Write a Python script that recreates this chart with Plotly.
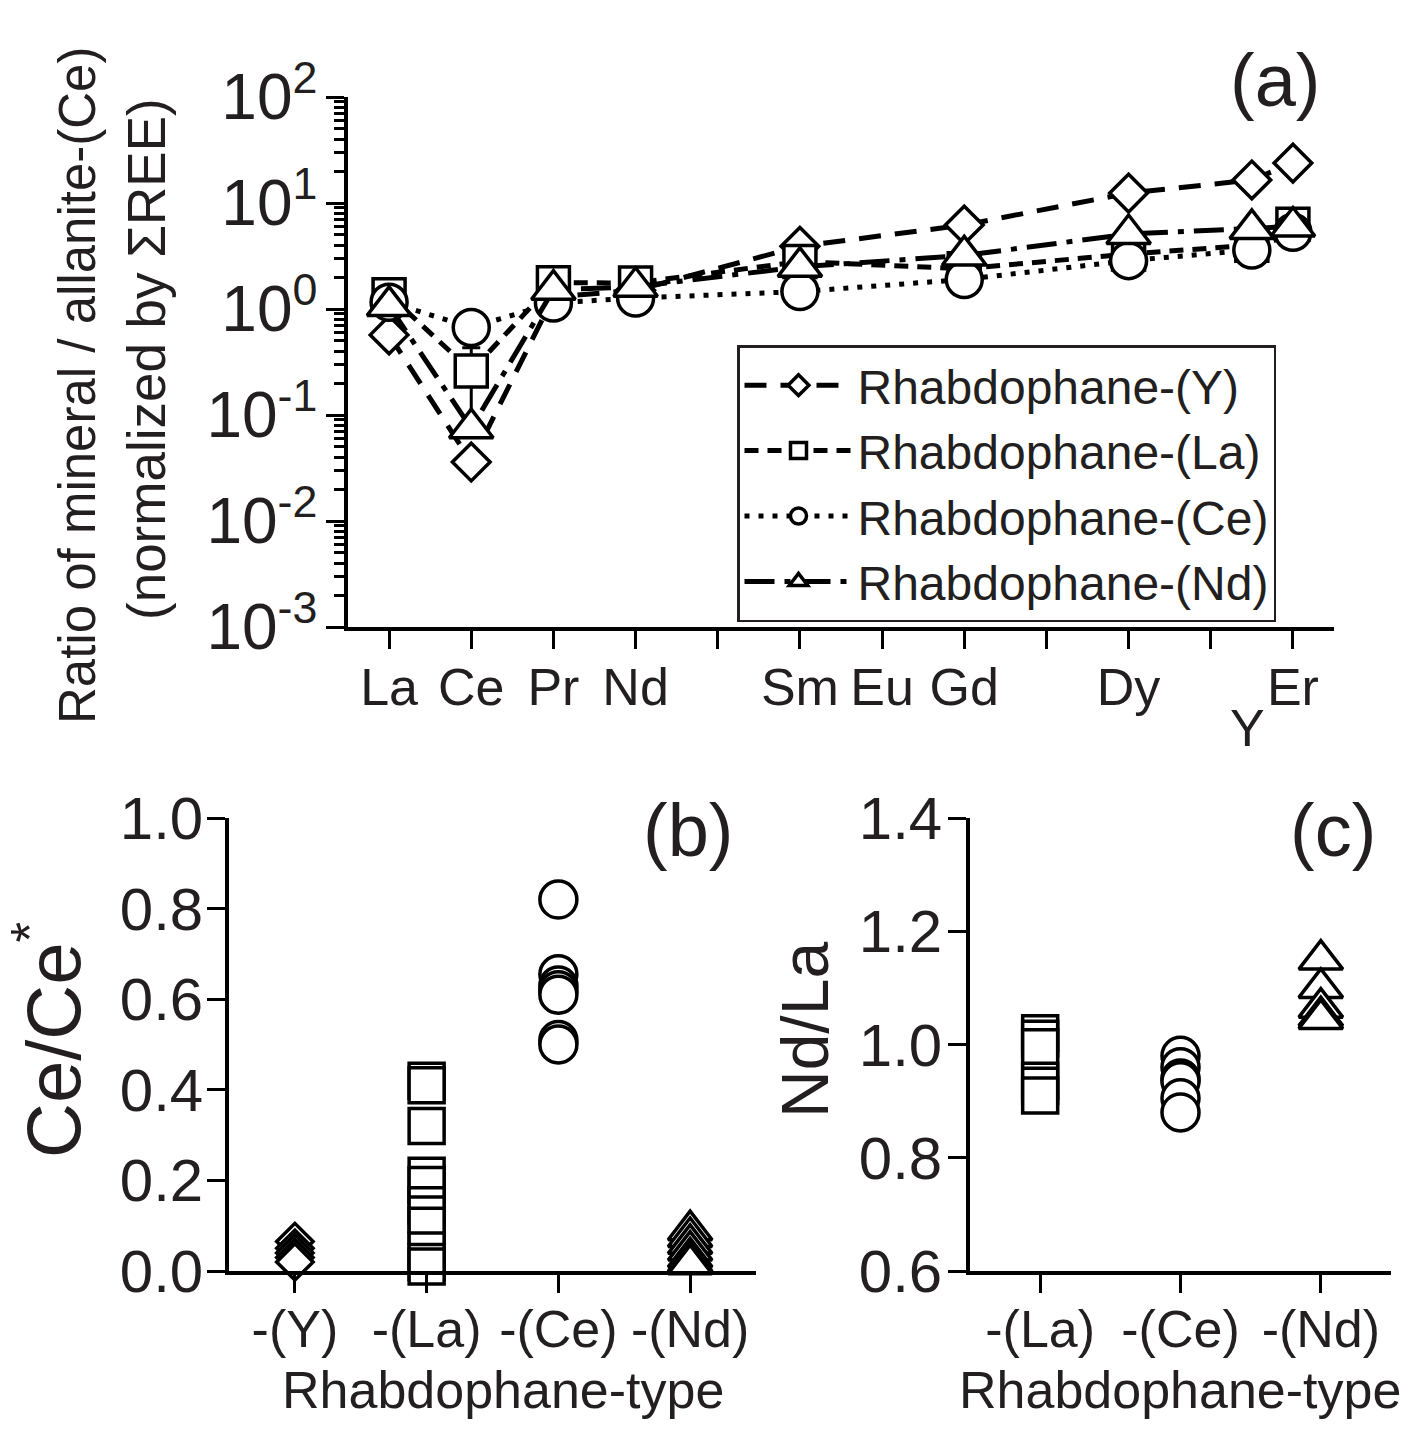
import plotly.graph_objects as go

W, H = 1427, 1436
FONT = "Liberation Sans, Arial, Helvetica, sans-serif"
INK = "#231f20"

# ---------------- data: panel (a) ----------------
ree_tick_pos = [1, 2, 3, 4, 5, 6, 7, 8, 9, 10, 11, 12]
ree_tick_text = ["La", "Ce", "Pr", "Nd", "", "Sm", "Eu", "Gd", "", "Dy", "", "Er"]
elements = ["La", "Ce", "Pr", "Nd", "Sm", "Gd", "Dy", "Y", "Er"]
element_x = [1, 2, 3, 4, 6, 8, 10, 11.5, 12]

ratio_Y = [0.57, 0.036, 1.3, 1.5, 3.9, 6.2, 12.4, 16.5, 23.8]
ratio_La = [1.36, 0.26, 1.77, 1.76, 2.8, 2.4, 3.3, 4.0, 6.3]
ratio_Ce = [1.16, 0.67, 1.14, 1.27, 1.46, 1.9, 2.86, 3.6, 5.3]
ratio_Nd = [1.07, 0.075, 1.52, 1.62, 2.5, 3.2, 5.1, 5.7, 6.0]
err_La_plus = [None, 0.17, None, None, None, None, None, None, None]
err_La_minus = [None, 0.17, None, None, None, None, None, None, None]

# ---------------- data: panel (b) Ce/Ce* ----------------
types_b = ["-(Y)", "-(La)", "-(Ce)", "-(Nd)"]
cece_Y = [0.065, 0.05, 0.04, 0.03, 0.02]
cece_La = [0.42, 0.41, 0.32, 0.21, 0.19, 0.145, 0.125, 0.10, 0.045, 0.02, 0.01]
cece_Ce = [0.82, 0.655, 0.63, 0.62, 0.61, 0.51, 0.50]
cece_Nd = [0.09, 0.075, 0.06, 0.045, 0.03, 0.02, 0.015]

# ---------------- data: panel (c) Nd/La ----------------
types_c = ["-(La)", "-(Ce)", "-(Nd)"]
ndla_La = [1.02, 1.01, 0.995, 0.936, 0.927, 0.91]
ndla_Ce = [0.98, 0.96, 0.94, 0.935, 0.905, 0.88]
ndla_Nd = [1.15, 1.10, 1.065, 1.05, 1.045]

series_names = ["Rhabdophane-(Y)", "Rhabdophane-(La)", "Rhabdophane-(Ce)", "Rhabdophane-(Nd)"]


def px(x):
    return x / W


def py(y):
    return 1 - y / H


MLW = 3.5
fig = go.Figure()

# panel (a) traces
a_specs = [
    (ratio_Y, "diamond", 29, "22px,14px", None),
    (ratio_La, "square", 32, "14px,9px", (err_La_plus, err_La_minus)),
    (ratio_Ce, "circle", 36, "5px,9px", None),
    (ratio_Nd, "triangle-up", 38, "30px,10px,6px,10px", None),
]
for (vals, sym, size, dash, err), name in zip(a_specs, series_names):
    kw = {}
    if err is not None:
        kw["error_y"] = dict(type="data", symmetric=False, array=err[0], arrayminus=err[1],
                             color="black", thickness=3, width=9)
    fig.add_trace(go.Scatter(
        x=element_x, y=vals, mode="lines+markers", name=name,
        line=dict(color="black", width=5, dash=dash),
        marker=dict(symbol=sym, size=size, color="white", line=dict(color="black", width=MLW)),
        xaxis="x", yaxis="y", cliponaxis=False, **kw))

# panel (b) traces
b_specs = [(cece_Y, "diamond", 28), (cece_La, "square", 35), (cece_Ce, "circle", 37), (cece_Nd, "triangle-up", 38)]
for i, (vals, sym, size) in enumerate(b_specs):
    fig.add_trace(go.Scatter(
        x=[i] * len(vals), y=vals, mode="markers", showlegend=False,
        marker=dict(symbol=sym, size=size, color="white", line=dict(color="black", width=MLW)),
        xaxis="x2", yaxis="y2", cliponaxis=False))

# panel (c) traces
c_specs = [(ndla_La, "square", 35), (ndla_Ce, "circle", 37), (ndla_Nd, "triangle-up", 38)]
for i, (vals, sym, size) in enumerate(c_specs):
    fig.add_trace(go.Scatter(
        x=[i] * len(vals), y=vals, mode="markers", showlegend=False,
        marker=dict(symbol=sym, size=size, color="white", line=dict(color="black", width=MLW)),
        xaxis="x3", yaxis="y3", cliponaxis=False))

axis_common = dict(showgrid=False, zeroline=False, showline=True, linecolor="black", linewidth=3.5,
                   ticks="outside", ticklen=18, tickwidth=3, tickcolor="black", automargin=False)


def tf(size):
    return dict(family=FONT, size=size, color=INK)


# minor tick positions for the log axis
minor_vals = [m * 10 ** k for k in range(-3, 2) for m in range(2, 10)]

fig.update_layout(
    width=W, height=H, margin=dict(l=0, r=0, t=0, b=0, pad=0, autoexpand=False),
    paper_bgcolor="white", plot_bgcolor="white",
    font=dict(family=FONT, color=INK),
    xaxis=dict(domain=[px(348), px(1334)], range=[0.5, 12.5], anchor="y",
               tickmode="array", tickvals=ree_tick_pos, ticktext=ree_tick_text,
               tickfont=tf(52), ticklabelstandoff=-6, **axis_common),
    yaxis=dict(domain=[py(627), py(97)], type="log", range=[-3, 2], anchor="x",
               tickmode="array", tickvals=[1e-3, 1e-2, 1e-1, 1, 10, 100],
               ticktext=["10<sup>-3</sup>", "10<sup>-2</sup>", "10<sup>-1</sup>", "10<sup>0</sup>",
                         "10<sup>1</sup>", "10<sup>2</sup>"],
               minor=dict(tickmode="array", tickvals=minor_vals, ticks="outside", ticklen=10,
                          tickwidth=2.5, tickcolor="black", showgrid=False),
               tickfont=tf(64), ticklabelstandoff=-4, **axis_common),
    xaxis2=dict(domain=[px(229), px(756)], range=[-0.5, 3.5], anchor="y2",
                tickmode="array", tickvals=[0, 1, 2, 3], ticktext=types_b,
                tickfont=tf(52), ticklabelstandoff=-8, **axis_common),
    yaxis2=dict(domain=[py(1271), py(818)], range=[0, 1.0], anchor="x2",
                tickmode="linear", tick0=0, dtick=0.2, tickformat=".1f",
                tickfont=tf(60), ticklabelstandoff=-8, **axis_common),
    xaxis3=dict(domain=[px(970), px(1391)], range=[-0.5, 2.5], anchor="y3",
                tickmode="array", tickvals=[0, 1, 2], ticktext=types_c,
                tickfont=tf(52), ticklabelstandoff=-8, **axis_common),
    yaxis3=dict(domain=[py(1271), py(818)], range=[0.6, 1.4], anchor="x3",
                tickmode="linear", tick0=0.6, dtick=0.2, tickformat=".1f",
                tickfont=tf(60), ticklabelstandoff=-6, **axis_common),
    legend=dict(x=px(737), y=py(345), xanchor="left", yanchor="top",
                bordercolor=INK, borderwidth=2.5, bgcolor="white",
                font=tf(48), tracegroupgap=0, itemwidth=108),
    showlegend=True,
)

ann_font = dict(family=FONT, color=INK)
annotations = [
    dict(text="(a)", x=px(1275), y=py(80), font=dict(size=74, **ann_font)),
    dict(text="(b)", x=px(688), y=py(830), font=dict(size=74, **ann_font)),
    dict(text="(c)", x=px(1333), y=py(830), font=dict(size=74, **ann_font)),
    dict(text="Y", x=px(1247), y=py(728), font=dict(size=52, **ann_font)),
    dict(text="Ratio of mineral / allanite-(Ce)", x=px(78), y=py(386), textangle=-90,
         font=dict(size=51, **ann_font)),
    dict(text="(normalized by \u03a3REE)", x=px(146), y=py(359), textangle=-90,
         font=dict(size=53, **ann_font)),
    dict(text="Ce/Ce<sup>*</sup>", x=px(48), y=py(1040), textangle=-90,
         font=dict(size=76, **ann_font)),
    dict(text="Nd/La", x=px(805), y=py(1030), textangle=-90,
         font=dict(size=66, **ann_font)),
    dict(text="Rhabdophane-type", x=px(503), y=py(1390), font=dict(size=52, **ann_font)),
    dict(text="Rhabdophane-type", x=px(1180), y=py(1390), font=dict(size=52, **ann_font)),
]
for a in annotations:
    a.update(xref="paper", yref="paper", showarrow=False, xanchor="center", yanchor="middle")
fig.update_layout(annotations=annotations)

fig.write_html("out.html")
